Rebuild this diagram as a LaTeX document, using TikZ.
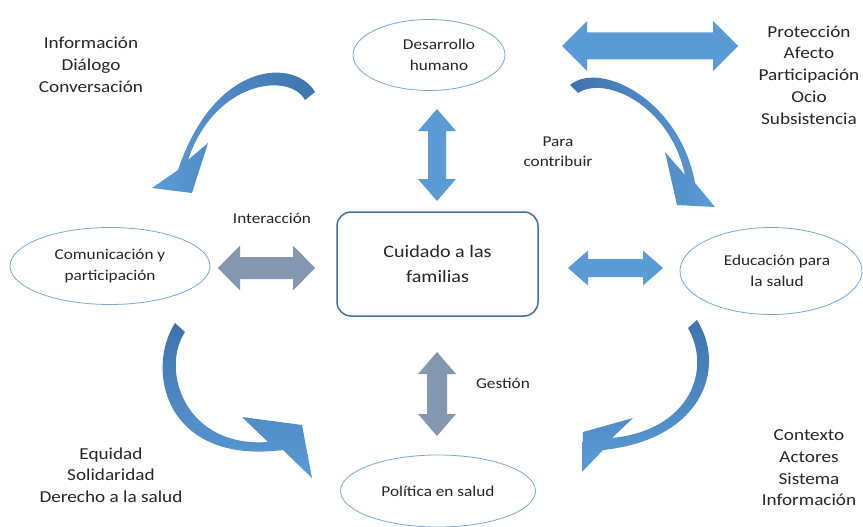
\documentclass[tikz,border=0pt]{standalone}
\usepackage{fontspec}
\setmainfont[FakeStretch=1.15]{Carlito}
\usetikzlibrary{shapes.geometric}
\definecolor{blueA}{HTML}{5B9BD5}
\definecolor{blueD}{HTML}{3F74AE}
\definecolor{grayA}{HTML}{8497B0}
\definecolor{ellc}{HTML}{7AA7D6}
\definecolor{boxc}{HTML}{41719C}
\definecolor{txt}{HTML}{262626}
\newcommand{\dah}[7]{%
\fill[#7] ({#1-#3},{#2}) -- ({#1-#3+#6},{#2-#4}) -- ({#1-#3+#6},{#2-#5}) -- ({#1+#3-#6},{#2-#5}) -- ({#1+#3-#6},{#2-#4}) -- ({#1+#3},{#2}) -- ({#1+#3-#6},{#2+#4}) -- ({#1+#3-#6},{#2+#5}) -- ({#1-#3+#6},{#2+#5}) -- ({#1-#3+#6},{#2+#4}) -- cycle;}
\newcommand{\dav}[7]{%
\fill[#7] ({#1},{#2-#3}) -- ({#1-#4},{#2-#3+#6}) -- ({#1-#5},{#2-#3+#6}) -- ({#1-#5},{#2+#3-#6}) -- ({#1-#4},{#2+#3-#6}) -- ({#1},{#2+#3}) -- ({#1+#4},{#2+#3-#6}) -- ({#1+#5},{#2+#3-#6}) -- ({#1+#5},{#2-#3+#6}) -- ({#1+#4},{#2-#3+#6}) -- cycle;}
\begin{document}
\begin{tikzpicture}[x=1pt,y=-1pt,
  ell/.style={ellipse, draw=ellc, line width=0.8pt, align=center, text=txt, font=\fontsize{15}{21}\selectfont, inner sep=0pt},
  etxt/.style={align=center, text=txt, font=\fontsize{15}{21}\selectfont, inner sep=0pt},
  lbl/.style={align=center, text=txt, font=\fontsize{16.7}{21.7}\selectfont, inner sep=0pt},
  slbl/.style={align=center, text=txt, font=\fontsize{15}{20}\selectfont, inner sep=0pt}]
\useasboundingbox (0,0) rectangle (863,527);
\fill[white] (0,0) rectangle (863,527);

% central box
\node[draw=boxc, line width=1.5pt, rounded corners=14pt, minimum width=201pt, minimum height=104pt,
  align=center, text=txt, font=\fontsize{17.5}{25}\selectfont] (cf) at (437.5,264) {Cuidado a las\\familias};

% ellipses
\node[ell, minimum width=152pt, minimum height=71pt] (dh) at (429,55) {};
\node[etxt] (dht) at (439,55) {Desarrollo\\humano};
\node[ell, minimum width=200pt, minimum height=77pt] (cp) at (110,266) {Comunicación y\\participación};
\node[ell, minimum width=182pt, minimum height=87pt] (es) at (771,271) {};
\node[etxt] (est) at (777,271) {Educación para\\la salud};
\node[ell, minimum width=195pt, minimum height=72pt] (ps) at (438,491) {Política en salud};

% double arrows
\dah{650}{46}{88}{25}{13.5}{25}{blueA}
\dav{437}{155}{46}{19}{9}{22}{blueA}
\dah{266.5}{268}{48.5}{22.5}{11}{22}{grayA}
\dah{615.5}{268}{47.5}{17.5}{9}{20}{blueA}
\dav{437}{394}{42}{19}{10}{22}{grayA}

% curved arrows
\shade[left color=blueA, right color=blueD]
 (315,92) .. controls (295,58) and (215,60) .. (178,170) -- (152,188) -- (192,193) -- (208,143) -- (188,160)
 .. controls (215,80) and (290,72) .. (305,100) -- cycle;
\shade[left color=blueD, right color=blueA]
 (570,85) .. controls (600,60) and (680,100) .. (695,183) -- (715,207) -- (677,205) -- (665,152) -- (685,175)
 .. controls (670,105) and (605,75) .. (578,93) -- cycle;
\shade[top color=blueD, bottom color=blueA]
 (175,323) .. controls (145,370) and (165,465) .. (283,450) -- (312,478) -- (302,425) -- (242,417) -- (268,442)
 .. controls (185,448) and (160,370) .. (185,332) -- cycle;
\shade[top color=blueD, bottom color=blueA]
 (697,320) .. controls (728,370) and (700,440) .. (603,450) -- (582,472) -- (583,432) -- (633,418) -- (612,438)
 .. controls (690,430) and (712,370) .. (688,328) -- cycle;

% labels
\node[lbl] (t1) at (91,65) {Información\\Diálogo\\Conversación};
\node[lbl] (t2) at (809,75) {Protección\\Afecto\\Participación\\Ocio\\Subsistencia};
\node[slbl] (t3) at (558,152) {Para\\contribuir};
\node[slbl] (t4) at (272,218) {Interacción};
\node[slbl] (t5) at (503,383) {Gestión};
\node[lbl] (t6) at (111,475) {Equidad\\Solidaridad\\Derecho a la salud};
\node[lbl] (t7) at (809,468) {Contexto\\Actores\\Sistema\\Información};
\end{tikzpicture}
\end{document}
